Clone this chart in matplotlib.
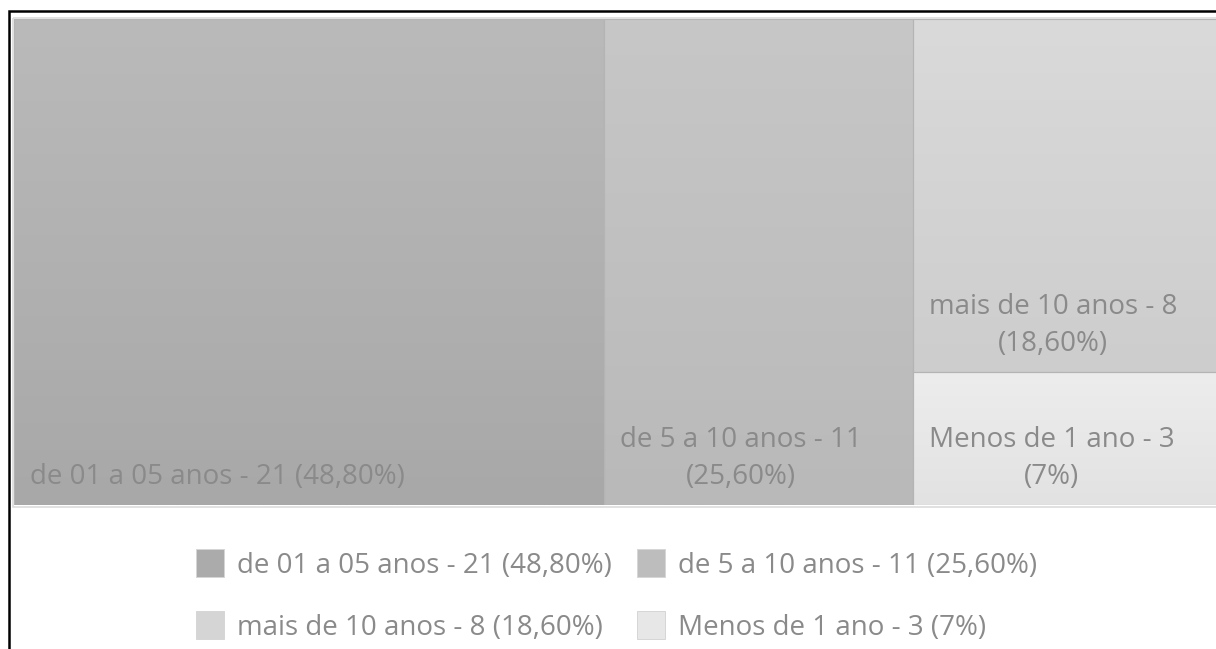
import matplotlib
matplotlib.use("Agg")
import matplotlib.pyplot as plt
import numpy as np
from matplotlib.patches import Rectangle
from matplotlib.colors import LinearSegmentedColormap

# Tempo de atuação: categorias e quantidades
categories = ["de 01 a 05 anos", "de 5 a 10 anos", "mais de 10 anos", "Menos de 1 ano"]
counts = [21, 11, 8, 3]
percent_labels = ["48,80%", "25,60%", "18,60%", "7%"]

# Tons de cinza (topo, base) de cada bloco e cor da amostra na legenda
top_colors = ["#bababa", "#c7c7c7", "#dadada", "#ededed"]
bottom_colors = ["#a8a8a8", "#b9b9b9", "#cdcdcd", "#e2e2e2"]
swatch_colors = ["#ababab", "#bdbdbd", "#d5d5d5", "#e7e7e7"]
text_color = "#8a8a8a"

FONT = "Open Sans"
FS = 20

W_PX, H_PX, DPI = 1216, 649, 100
fig = plt.figure(figsize=(W_PX / DPI, H_PX / DPI), dpi=DPI)
fig.patch.set_facecolor("white")


def px(x, y):
    """Pixel position (origin top-left) -> figure fraction."""
    return x / W_PX, 1 - y / H_PX


# Plot area of the treemap (extends slightly past the right edge)
left, top, right, bottom = 14, 19, 1222, 505
ax_w, ax_h = right - left, bottom - top
ax = fig.add_axes([left / W_PX, 1 - bottom / H_PX, ax_w / W_PX, ax_h / H_PX])
ax.axis("off")


def worst(row, side):
    s = sum(row)
    return max(max(side * side * r / (s * s), (s * s) / (side * side * r)) for r in row)


def squarify(values, x, y, w, h):
    """Squarified treemap layout; values scaled to the area w*h."""
    total = sum(values)
    areas = [v * w * h / total for v in values]
    rects = []
    while areas:
        side = min(w, h)
        row = [areas[0]]
        i = 1
        while i < len(areas) and worst(row + [areas[i]], side) <= worst(row, side):
            row.append(areas[i])
            i += 1
        s = sum(row)
        if w >= h:  # lay out a column on the left
            cw = s / h
            yy = y
            for a in row:
                rh = a / cw
                rects.append((x, yy, cw, rh))
                yy += rh
            x += cw
            w -= cw
        else:  # lay out a row on the top
            rh = s / w
            xx = x
            for a in row:
                rw = a / rh
                rects.append((xx, y, rw, rh))
                xx += rw
            y += rh
            h -= rh
        areas = areas[i:]
    return rects


rects = squarify(counts, 0, 0, ax_w, ax_h)

grad = np.linspace(0, 1, 256).reshape(-1, 1)
for i, (x, y, w, h) in enumerate(rects):
    cmap = LinearSegmentedColormap.from_list(f"g{i}", [top_colors[i], bottom_colors[i]])
    ax.imshow(grad, cmap=cmap, extent=(x, x + w, y + h, y), aspect="auto",
              interpolation="bilinear", zorder=1)
    ax.add_patch(Rectangle((x, y), w, h, facecolor="none",
                           edgecolor="#b4b4b4", lw=0.8, zorder=2))

# Soft outline around the whole treemap
ax.add_patch(Rectangle((-1.5, -1.5), ax_w + 3, ax_h + 3, facecolor="none",
                       edgecolor="#dcdcdc", lw=1.2, zorder=0, clip_on=False))
ax.set_xlim(0, ax_w)
ax.set_ylim(ax_h, 0)

# Data labels inside each block (bottom-left, centred lines)
for i, (x, y, w, h) in enumerate(rects):
    if i == 0:
        txt = f"{categories[i]} - {counts[i]} ({percent_labels[i]})"
    else:
        txt = f"{categories[i]} - {counts[i]}\n({percent_labels[i]})"
    ax.annotate(txt, xy=(x, y + h), xytext=(16, 14), textcoords="offset pixels",
                ha="left", va="bottom", multialignment="center",
                fontsize=FS, family=FONT, color=text_color, linespacing=1.45,
                zorder=3)

# Legend: two rows, two columns
col_x = [196, 637]
row_y = [566, 628]
sq = 28
for i, cat in enumerate(categories):
    r, c = divmod(i, 2)
    x0, yc = col_x[c], row_y[r]
    fx, fy = px(x0, yc - 3 + sq / 2)
    fig.patches.append(Rectangle((fx, fy), sq / W_PX, sq / H_PX, transform=fig.transFigure,
                                 facecolor=swatch_colors[i], edgecolor="#d6d6d6", lw=0.7))
    tx, ty = px(x0 + 41, yc)
    fig.text(tx, ty, f"{cat} - {counts[i]} ({percent_labels[i]})", ha="left",
             va="center", fontsize=FS, family=FONT, color=text_color)

# Outer black frame
fx, fy = px(8.5, 11)
fig.patches.append(Rectangle((fx, fy - 2), 2, 2, transform=fig.transFigure,
                             facecolor="none", edgecolor="black", lw=1.8))

fig.savefig("out.png", dpi=DPI, facecolor="white")
